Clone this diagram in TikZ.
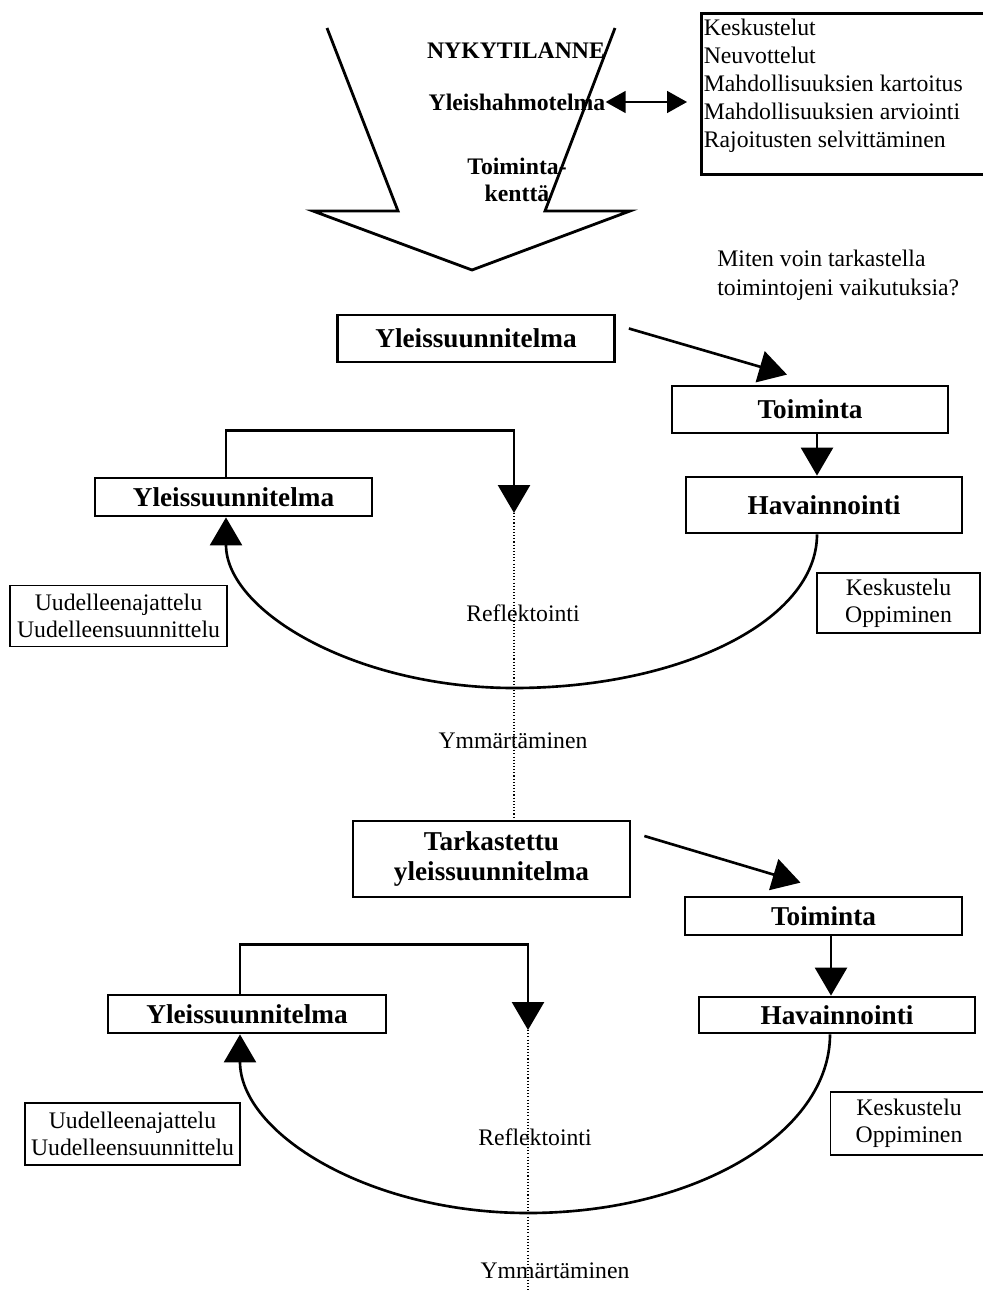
\documentclass[tikz,border=0pt]{standalone}
\usepackage{fontspec}
\setmainfont{Liberation Serif}
\usetikzlibrary{arrows.meta}

\begin{document}
\begin{tikzpicture}[x=0.02cm, y=-0.02cm,
  box/.style={draw, line width=1.6pt, font=\bfseries\fontsize{15.5}{17.5}\selectfont, align=center,
    minimum width=5.54cm, minimum height=0.76cm, inner sep=0pt},
  note/.style={draw, line width=0.7pt, font=\fontsize{13.5}{15.5}\selectfont, align=center, inner sep=0pt},
  lbl/.style={font=\fontsize{13.5}{16.3}\selectfont, inner sep=0pt},
  headtext/.style={font=\bfseries\fontsize{13.5}{15}\selectfont, align=center, inner sep=0pt},
  flow/.style={line width=1.5pt, -{Triangle[length=0.56cm, width=0.64cm]}},
  trace/.style={line width=0.8pt, dash pattern=on 0.6pt off 1.2pt},
]

  \clip (0,0) rectangle (983,1291);

  \draw[line width=1.6pt] (327,28) -- (398,211) -- (313,211) -- (472,270) -- (630,211) -- (545,211) -- (615,28);
  \node[headtext] (nyk) at (516,51) {NYKYTILANNE};
  \node[headtext] (ylh) at (517,102) {Yleishahmotelma};
  \node[headtext] (tk) at (517,180) {Toiminta-\\kenttä};

  \node[draw, line width=1.5pt, anchor=north west, inner sep=0.05cm, font=\fontsize{13.5}{15.9}\selectfont] (lst) at (700,12)
    {\parbox[c][3.12cm][t]{5.8cm}{\vspace*{2pt}Keskustelut\\Neuvottelut\\Mahdollisuuksien kartoitus\\Mahdollisuuksien arviointi\\Rajoitusten selvittäminen}};
  \draw[line width=0.9pt, {Triangle[length=0.4cm, width=0.44cm]}-{Triangle[length=0.4cm, width=0.44cm]}, shorten >=0.26cm]
    (ylh.east) -- (lst.west |- ylh.east);

  \node[lbl, align=left, anchor=west] (q) at (717,275) {Miten voin tarkastella\\toimintojeni vaikutuksia?};

  \node[box, minimum height=0.94cm] (ys1) at (476,338.5) {Yleissuunnitelma};
  \node[box, minimum width=5.52cm, minimum height=0.94cm] (toi1) at (810,409.5) {Toiminta};
  \node[box, minimum width=5.52cm, minimum height=1.12cm] (hav1) at (824,505) {Havainnointi};
  \node[box] (ylp1) at (233.5,497) {Yleissuunnitelma};
  \node[note, minimum width=4.34cm, minimum height=1.22cm] (uud1) at (118.5,616) {Uudelleenajattelu\\Uudelleensuunnittelu};
  \node[note, minimum width=3.26cm, minimum height=1.2cm] (kes1) at (898.5,603) {Keskustelu\\Oppiminen};
  \node[lbl] (ref1) at (523,613) {Reflektointi};
  \node[lbl] (ymm1) at (513,741) {Ymmärtäminen};
  \coordinate (r1) at (514,513);
  \coordinate (c1) at (514,688);

  \node[box, minimum height=1.52cm] (tark) at (491.5,859) {Tarkastettu\\yleissuunnitelma};
  \node[box] (toi2) at (823.5,916) {Toiminta};
  \node[box, minimum width=5.52cm, minimum height=0.72cm] (hav2) at (837,1015) {Havainnointi};
  \node[box, minimum width=5.56cm] (ylp2) at (247,1014) {Yleissuunnitelma};
  \node[note, minimum width=4.3cm, minimum height=1.24cm] (uud2) at (132.5,1134) {Uudelleenajattelu\\Uudelleensuunnittelu};
  \node[note, minimum width=3.14cm, minimum height=1.26cm] (kes2) at (909,1123.5) {Keskustelu\\Oppiminen};
  \node[lbl] (ref2) at (535,1137) {Reflektointi};
  \node[lbl] (ymm2) at (555,1271) {Ymmärtäminen};
  \coordinate (r2) at (528,1030);
  \coordinate (c2) at (528,1213);
  \coordinate (e2) at (528,1291);

  \draw[flow] ([shift={(13,-10)}]ys1.east) -- ([shift={(-23,-10)}]toi1.north);
  \draw[flow] ([xshift=0.14cm]toi1.south) -- ([xshift=0.14cm]toi1.south |- hav1.north);
  \draw[flow] ([xshift=-0.15cm]ylp1.north) -- ++(0,-46) -| (r1);
  \draw[trace] (r1) -- (r1 |- tark.north);
  \draw[flow] ([xshift=-0.14cm]hav1.south) .. controls +(0,86) and +(167,0) .. (c1)
    .. controls +(-158,0) and +(0,94) .. ([xshift=-0.15cm]ylp1.south);

  \draw[flow] ([shift={(13,-23)}]tark.east) -- ([shift={(-23,-13)}]toi2.north);
  \draw[flow] ([xshift=0.15cm]toi2.south) -- ([xshift=0.15cm]toi2.south |- hav2.north);
  \draw[flow] ([xshift=-0.14cm]ylp2.north) -- ++(0,-49) -| (r2);
  \draw[trace] (r2) -- (e2);
  \draw[flow] ([xshift=-0.14cm]hav2.south) .. controls +(0,99) and +(167,0) .. (c2)
    .. controls +(-159,0) and +(0,99) .. ([xshift=-0.14cm]ylp2.south);

\end{tikzpicture}
\end{document}
